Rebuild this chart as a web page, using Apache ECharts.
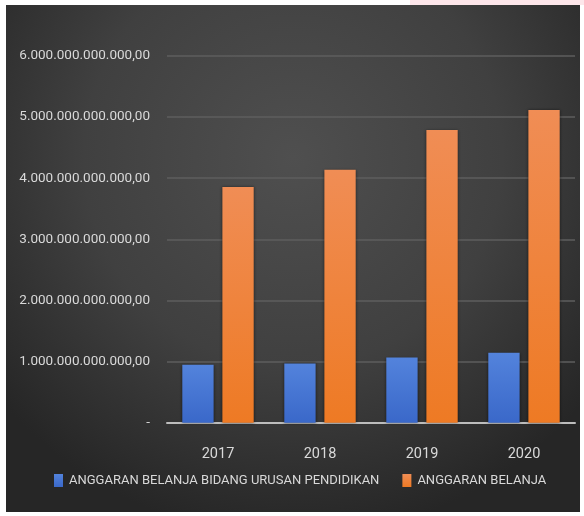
<!DOCTYPE html>
<html>
<head>
<meta charset="utf-8">
<script src="https://cdn.jsdelivr.net/npm/echarts@6/dist/echarts.min.js"></script>
<style>
html,body{margin:0;padding:0;background:#ffffff;}
#c{width:584px;height:516px;}
</style>
</head>
<body>
<div id="c"></div>
<script>
const categories = ['2017', '2018', '2019', '2020'];
const seriesNames = ['ANGGARAN BELANJA BIDANG URUSAN PENDIDIKAN', 'ANGGARAN BELANJA'];
const pendidikan = [950000000000, 970000000000, 1065000000000, 1145000000000];
const belanja = [3855000000000, 4140000000000, 4790000000000, 5115000000000];
const yTicks = [0, 1000000000000, 2000000000000, 3000000000000, 4000000000000, 5000000000000, 6000000000000];

const FONT = "Roboto, sans-serif";
const TXT = '#d9d9d9';

function fmt(v) {
  if (v === 0) return '-';
  const s = Math.round(v).toString().replace(/\B(?=(\d{3})+(?!\d))/g, '.');
  return s + ',00';
}

const chart = echarts.init(document.getElementById('c'), null, {renderer: 'canvas'});
chart.setOption({
  backgroundColor: 'transparent',
  animation: false,
  graphic: [
    {
      type: 'rect', z: -10, silent: true,
      shape: {x: 6, y: 5, width: 574, height: 507},
      style: {
        fill: new echarts.graphic.RadialGradient(0.5, 0.3, 0.75, [
          {offset: 0, color: '#4f4f4f'},
          {offset: 0.55, color: '#404040'},
          {offset: 1, color: '#262626'}
        ])
      }
    },
    {
      type: 'rect', z: -10, silent: true,
      shape: {x: 410, y: 0, width: 174, height: 5},
      style: {fill: '#fde6ea'}
    }
  ],
  grid: {left: 167, right: 9, top: 56, bottom: 93.3, containLabel: false, outerBoundsMode: 'none'},
  legend: {
    top: 474,
    left: 54,
    padding: [0, 0, 0, 0],
    itemWidth: 9,
    itemHeight: 13,
    itemGap: 23,
    icon: 'rect',
    textStyle: {color: TXT, fontFamily: FONT, fontSize: 13, padding: [0, 0, 0, 1]},
    data: seriesNames
  },
  xAxis: {
    type: 'category',
    data: categories,
    axisLine: {show: true, lineStyle: {color: '#bdbdbd', width: 2}},
    axisTick: {show: false},
    axisLabel: {color: TXT, fontFamily: FONT, fontSize: 14.5, margin: 24}
  },
  yAxis: {
    type: 'value',
    min: 0,
    max: 6000000000000,
    interval: 1000000000000,
    axisLine: {show: false},
    axisTick: {show: false},
    splitLine: {lineStyle: {color: '#5e5e5e', width: 1.5}},
    axisLabel: {
      color: TXT, fontFamily: FONT, fontSize: 13.5, margin: 17,
      formatter: function (v) { return fmt(v); }
    }
  },
  series: [
    {
      name: seriesNames[0],
      type: 'bar',
      data: pendidikan,
      barGap: '28%',
      barCategoryGap: '30%',
      itemStyle: {
        color: new echarts.graphic.LinearGradient(0, 0, 0, 1, [
          {offset: 0, color: '#5383dc'},
          {offset: 1, color: '#3a68c9'}
        ]),
        shadowColor: 'rgba(0,0,0,0.5)', shadowBlur: 3
      }
    },
    {
      name: seriesNames[1],
      type: 'bar',
      data: belanja,
      itemStyle: {
        color: new echarts.graphic.LinearGradient(0, 0, 0, 1, [
          {offset: 0, color: '#f08d55'},
          {offset: 1, color: '#ee7a24'}
        ]),
        shadowColor: 'rgba(0,0,0,0.5)', shadowBlur: 3
      }
    }
  ]
});
</script>
</body>
</html>
